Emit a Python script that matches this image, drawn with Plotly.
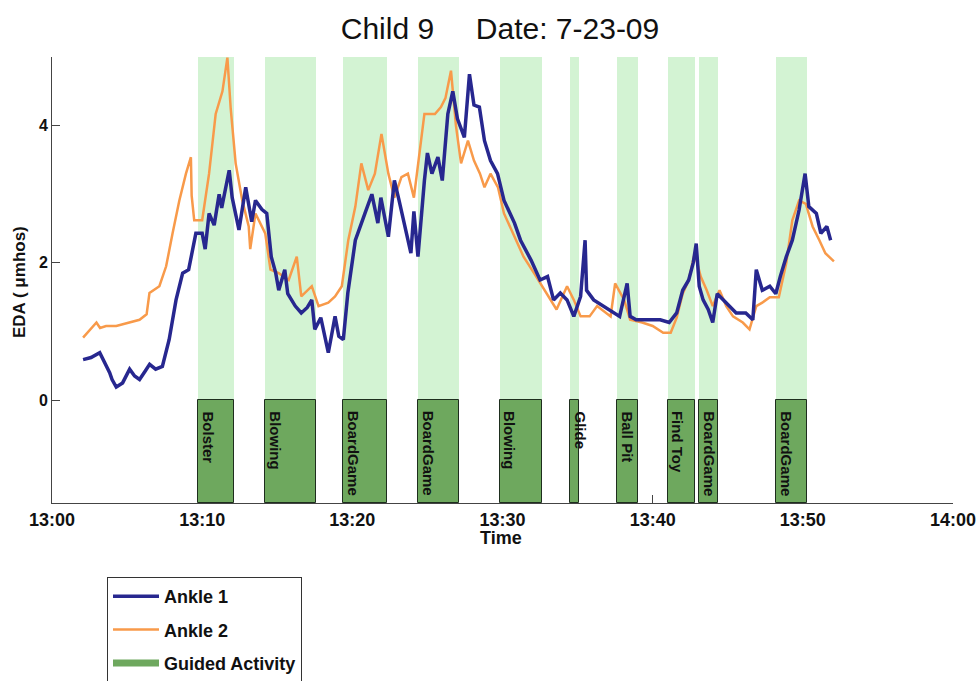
import plotly.graph_objects as go

# ---- data (minutes after 13:00) ----
ankle1_t = [2.07, 2.6, 3.18, 3.4, 3.84, 4.0, 4.28, 4.7, 5.17, 5.5, 5.83, 6.2, 6.5, 6.9, 7.35, 7.8, 8.26, 8.7, 9.1,
            9.58, 10.0, 10.2, 10.46, 10.8, 11.13, 11.3, 11.8, 12.0, 12.45, 12.9, 13.3, 13.55, 13.97, 14.3, 14.5,
            14.6, 14.9, 15.1, 15.5, 15.7, 16.2, 16.6, 17.0, 17.3, 17.5, 17.9, 18.4, 18.85, 19.1, 19.4, 19.7, 20.2,
            20.84, 21.3, 21.7, 21.9, 22.4, 22.8, 23.1, 23.5, 23.9, 24.1, 24.37, 24.8, 25.0, 25.3, 25.7, 25.99,
            26.36, 26.69, 27.0, 27.46, 27.8, 28.1, 28.46, 28.8, 29.2, 29.67, 30.1, 30.8, 31.2, 31.9, 32.5, 33.0,
            33.4, 33.85, 34.3, 34.75, 35.2, 35.5, 35.6, 36.07, 36.7, 37.4, 37.8, 38.3, 38.5, 38.9, 39.8, 40.5,
            41.1, 41.6, 42.0, 42.4, 42.7, 42.9, 43.1, 43.36, 43.7, 44.0, 44.3, 44.7, 45.1, 45.56, 46.2, 46.67,
            46.9, 47.3, 47.8, 48.2, 48.5, 48.9, 49.3, 49.75, 50.15, 50.4, 50.9, 51.2, 51.6, 51.85]
ankle1_v = [0.59, 0.62, 0.69, 0.6, 0.4, 0.3, 0.19, 0.25, 0.45, 0.35, 0.3, 0.42, 0.52, 0.45, 0.49, 0.88, 1.46, 1.85, 1.9,
            2.43, 2.43, 2.2, 2.72, 2.55, 3.0, 2.8, 3.35, 2.95, 2.48, 3.1, 2.6, 2.91, 2.78, 2.72, 2.33,
            2.09, 1.85, 1.6, 1.9, 1.55, 1.37, 1.27, 1.35, 1.46, 1.03, 1.2, 0.69, 1.22, 0.93, 0.88, 1.56, 2.33,
            2.72, 3.0, 2.58, 2.95, 2.38, 3.2, 2.92, 2.53, 2.14, 2.75, 2.09, 3.2, 3.6, 3.3, 3.54, 3.2,
            4.17, 4.5, 4.1, 3.83, 4.75, 4.3, 4.27, 3.78, 3.49, 3.3, 2.91, 2.58, 2.33, 2.04, 1.75, 1.8,
            1.46, 1.56, 1.46, 1.22, 1.51, 2.33, 1.6, 1.46, 1.37, 1.27, 1.22, 1.7, 1.22, 1.17, 1.17, 1.17,
            1.13, 1.27, 1.6, 1.75, 2.0, 2.28, 1.66, 1.46, 1.32, 1.13, 1.55, 1.46, 1.37, 1.27, 1.27, 1.17,
            1.9, 1.6, 1.66, 1.55, 1.8, 2.09, 2.33, 2.77, 3.3, 2.82, 2.72, 2.43, 2.53, 2.33]

ankle2_t = [2.07, 2.96, 3.2, 3.6, 4.28, 5.17, 5.83, 6.3, 6.49, 7.15, 7.6, 8.03, 8.48, 8.92, 9.25, 9.3, 9.47, 10.0,
            10.46, 10.9, 11.35, 11.68, 11.9, 12.23, 12.67, 13.1, 13.2, 13.55, 14.2, 14.55, 15.1, 15.76, 16.3,
            16.6, 17.3, 17.75, 18.4, 18.85, 19.3, 19.73, 20.2, 20.6, 21.06, 21.5, 21.94, 22.4, 22.8, 23.27,
            23.7, 24.1, 24.6, 24.8, 25.5, 25.9, 26.2, 26.57, 26.9, 27.24, 27.7, 28.1, 28.5, 28.8, 29.2, 29.7,
            30.1, 30.8, 31.4, 32.1, 32.9, 33.6, 34.3, 34.75, 35.2, 35.8, 36.3, 37.2, 37.5, 38.1, 38.5, 39.3,
            40.0, 40.7, 41.2, 41.6, 42.0, 42.4, 42.8, 43.2, 43.6, 44.0, 44.45, 44.9, 45.35, 46.0, 46.45, 46.9,
            47.3, 47.8, 48.4, 48.9, 49.3, 49.75, 50.2, 50.65, 51.1, 51.5, 52.07]
ankle2_v = [0.91, 1.13, 1.05, 1.08, 1.08, 1.13, 1.17, 1.25, 1.56, 1.66, 1.95, 2.43, 2.91, 3.3, 3.54, 2.98, 2.62, 2.62,
            3.3, 4.17, 4.5, 4.99, 4.25, 3.45, 2.91, 2.53, 2.2, 2.72, 2.43, 1.9, 1.85, 1.75, 2.09,
            1.51, 1.66, 1.37, 1.42, 1.51, 1.66, 2.33, 2.82, 3.45, 3.06, 3.3, 3.88, 3.3, 2.95, 3.25,
            3.3, 2.95, 3.78, 4.17, 4.17, 4.27, 4.4, 4.8, 4.0, 3.45, 3.78, 3.49, 3.3, 3.1, 3.3, 3.1,
            2.72, 2.38, 2.09, 1.85, 1.56, 1.32, 1.66, 1.46, 1.22, 1.22, 1.37, 1.22, 1.7, 1.46, 1.17, 1.13,
            1.08, 0.98, 0.98, 1.2, 1.55, 1.75, 2.14, 1.8, 1.6, 1.37, 1.6, 1.37, 1.22, 1.13, 1.03, 1.37,
            1.42, 1.5, 1.5, 2.0, 2.62, 2.91, 2.86, 2.53, 2.33, 2.14, 2.02]

activity_names = ["Bolster", "Blowing", "BoardGame", "BoardGame", "Blowing", "Glide", "Ball Pit",
                  "Find Toy", "BoardGame", "BoardGame"]
activity_start = [9.73, 14.2, 19.4, 24.4, 29.8, 34.5, 37.6, 41.0, 43.07, 48.2]
activity_end = [12.1, 17.6, 22.3, 27.1, 32.6, 35.1, 39.05, 42.85, 44.35, 50.3]

tick_vals = [0, 10, 20, 30, 40, 50, 60]
tick_text = ["13:00", "13:10", "13:20", "13:30", "13:40", "13:50", "14:00"]

Y_MIN, Y_MAX = -1.5, 5
FONT = "Liberation Sans, Arial, sans-serif"

W, H = 980, 681
ML, MR, MT, MB = 52, 27, 57, 178
PW, PH = W - ML - MR, H - MT - MB

centers = [(s + e) / 2 for s, e in zip(activity_start, activity_end)]
widths = [e - s for s, e in zip(activity_start, activity_end)]

fig = go.Figure()

# light shading above zero
fig.add_trace(go.Bar(x=centers, y=[Y_MAX] * len(centers), base=0, width=widths,
                     marker=dict(color="#d3f3d3", line=dict(width=0)), showlegend=False, hoverinfo="skip"))
# dark boxes below zero
fig.add_trace(go.Bar(x=centers, y=[-Y_MIN] * len(centers), base=Y_MIN, width=widths,
                     marker=dict(color="#6ea85e", line=dict(color="#1e2e1e", width=1)),
                     showlegend=False, hoverinfo="skip"))

fig.add_trace(go.Scatter(x=ankle2_t, y=ankle2_v, mode="lines", name="<b>Ankle 2</b>",
                         legendgroup="b", legendrank=2,
                         line=dict(color="#f89a4a", width=2.5)))
fig.add_trace(go.Scatter(x=ankle1_t, y=ankle1_v, mode="lines", name="<b>Ankle 1</b>",
                         legendgroup="a", legendrank=1,
                         line=dict(color="#27278f", width=3.5)))
fig.add_trace(go.Scatter(x=[None], y=[None], mode="lines", name="<b>Guided Activity</b>",
                         legendgroup="c", legendrank=3,
                         line=dict(color="#6ea85e", width=7)))

for name, s in zip(activity_names, activity_start):
    fig.add_annotation(x=s, y=0, xref="x", yref="y", text="<b>" + name + "</b>", textangle=90,
                       showarrow=False, xanchor="left", yanchor="top", xshift=0, yshift=-9,
                       font=dict(family=FONT, size=15, color="#111"))

fig.add_annotation(x=(501 - ML) / PW, y=(MT + PH - 538) / PH, xref="paper", yref="paper", text="<b>Time</b>",
                   showarrow=False, xanchor="center", yanchor="middle", font=dict(size=18))
fig.add_annotation(x=(19 - ML) / PW, y=(MT + PH - 282) / PH, xref="paper", yref="paper",
                   text="<b>EDA ( \u03bcmhos)</b>", textangle=-90,
                   showarrow=False, xanchor="center", yanchor="middle", font=dict(size=17))

fig.update_layout(
    width=W, height=H,
    paper_bgcolor="white", plot_bgcolor="white",
    margin=dict(l=ML, r=MR, t=MT, b=MB, autoexpand=False),
    barmode="overlay", bargap=0,
    font=dict(family=FONT, color="#111"),
    title=dict(text="Child 9\u00a0\u00a0\u00a0\u00a0\u00a0Date: 7-23-09", x=500 / W, xanchor="center",
               xref="container", yref="container",
               y=1 - 28 / H, yanchor="middle", font=dict(size=30, color="#111")),
    legend=dict(x=107 / W, y=1 - 577 / H, xref="container", yref="container",
                xanchor="left", yanchor="top",
                traceorder="grouped", bordercolor="#333", borderwidth=1, bgcolor="white",
                font=dict(size=18, color="#111"), itemwidth=46,
                tracegroupgap=7),
    showlegend=True,
)
fig.update_xaxes(range=[0, 60], tickvals=tick_vals, ticktext=["<b>" + t + "</b>" for t in tick_text],
                 ticks="inside", ticklen=8, tickcolor="#444", showline=True, linecolor="#444", linewidth=1,
                 showgrid=False, zeroline=False, tickfont=dict(size=18), automargin=False,
                 layer="below traces")
fig.update_yaxes(range=[Y_MIN, Y_MAX], tickvals=[0, 2, 4], ticktext=["<b>0</b>", "<b>2</b>", "<b>4</b>"],
                 ticks="inside", ticklen=8, tickcolor="#444", showline=True, linecolor="#444", linewidth=1,
                 showgrid=False, zeroline=False, tickfont=dict(size=16), automargin=False)

# remove the default 8px page margin so the 980x681 figure fills the window exactly
fig.write_html("out.html", config={"displayModeBar": False},
               post_script="document.body.style.margin='0';document.body.style.overflow='hidden';")
